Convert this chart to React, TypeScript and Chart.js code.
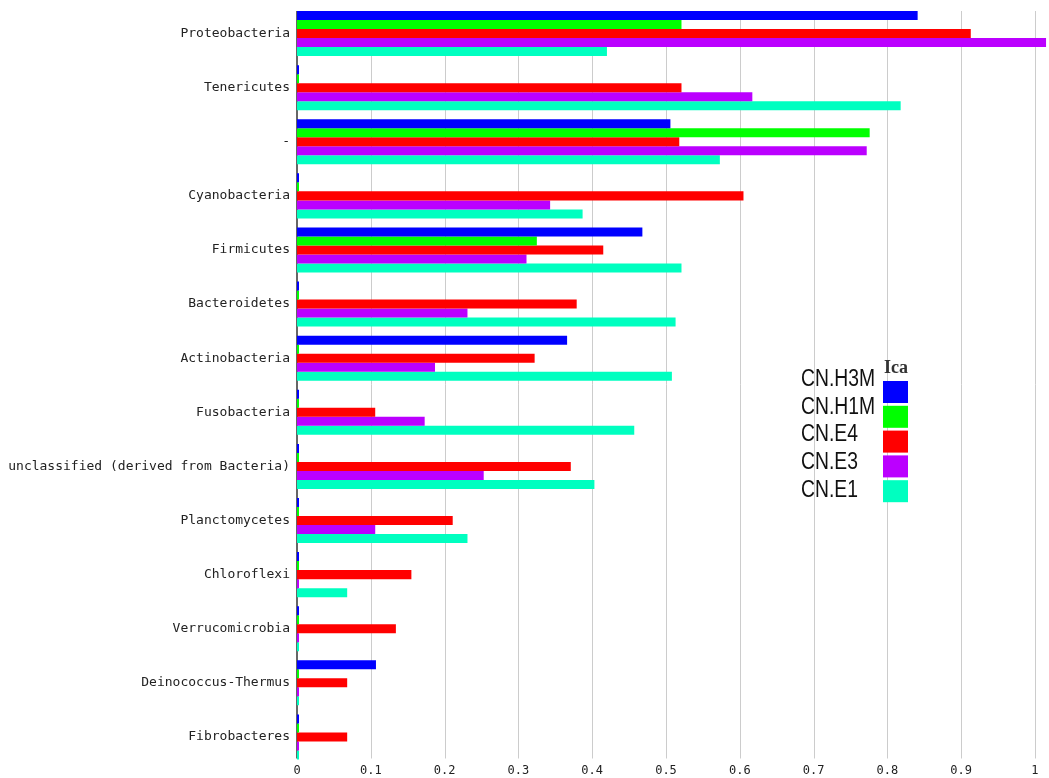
import React, { useEffect, useRef } from "react";
import { Chart, registerables } from "chart.js";

Chart.register(...registerables);

// Phylum names, top to bottom
const categories = [
  "Proteobacteria",
  "Tenericutes",
  "-",
  "Cyanobacteria",
  "Firmicutes",
  "Bacteroidetes",
  "Actinobacteria",
  "Fusobacteria",
  "unclassified (derived from Bacteria)",
  "Planctomycetes",
  "Chloroflexi",
  "Verrucomicrobia",
  "Deinococcus-Thermus",
  "Fibrobacteres",
];

// Relative abundance per sample
const cnH3M = [0.841, 0, 0.506, 0, 0.468, 0, 0.366, 0, 0, 0, 0, 0, 0.107, 0];
const cnH1M = [0.521, 0, 0.776, 0, 0.325, 0, 0, 0, 0, 0, 0, 0, 0, 0];
const cnE4 = [0.913, 0.521, 0.518, 0.605, 0.415, 0.379, 0.322, 0.106, 0.371, 0.211, 0.155, 0.134, 0.068, 0.068];
const cnE3 = [1.015, 0.617, 0.772, 0.343, 0.311, 0.231, 0.187, 0.173, 0.253, 0.106, 0, 0, 0, 0];
const cnE1 = [0.42, 0.818, 0.573, 0.387, 0.521, 0.513, 0.508, 0.457, 0.403, 0.231, 0.068, 0, 0, 0];

const seriesNames = ["CN.H3M", "CN.H1M", "CN.E4", "CN.E3", "CN.E1"];
const seriesValues = [cnH3M, cnH1M, cnE4, cnE3, cnE1];
const seriesColors = ["#0000ff", "#00ff00", "#ff0000", "#bb00ff", "#00ffc0"];

const legendTitle = "Ica";
const xTickMax = 1;

// Vertical grid and the zero axis, spanning only the bar groups
const gridPlugin = {
  id: "groupGrid",
  beforeDatasetsDraw(chart: any) {
    const ctx = chart.ctx as CanvasRenderingContext2D;
    const xs = chart.scales.x;
    const area = chart.chartArea;
    const top = area.top + 4.5;
    const bottom = area.bottom - 5.5;
    ctx.save();
    ctx.lineWidth = 1;
    ctx.strokeStyle = "#cccccc";
    xs.ticks.forEach((t: any) => {
      if (t.value === 0) return;
      const px = Math.round(xs.getPixelForValue(t.value)) + 0.5;
      ctx.beginPath();
      ctx.moveTo(px, top);
      ctx.lineTo(px, bottom);
      ctx.stroke();
    });
    ctx.lineWidth = 1.5;
    ctx.strokeStyle = "#333";
    const zx = xs.getPixelForValue(0);
    ctx.beginPath();
    ctx.moveTo(zx, top);
    ctx.lineTo(zx, bottom);
    ctx.stroke();
    ctx.restore();
  },
};

// Legend box at the right of the plot
const legendPlugin = {
  id: "sideLegend",
  afterDraw(chart: any) {
    const ctx = chart.ctx as CanvasRenderingContext2D;
    ctx.save();
    ctx.font = "bold 18px 'Liberation Serif', serif";
    ctx.fillStyle = "#333";
    ctx.textAlign = "left";
    ctx.textBaseline = "alphabetic";
    ctx.fillText(legendTitle, 884, 373);

    seriesNames.forEach((name, i) => {
      const sy = 381 + i * 24.8;
      ctx.fillStyle = seriesColors[i];
      ctx.fillRect(883, sy, 25, 22);

      const ty = 379.5 + i * 27.8;
      ctx.save();
      ctx.translate(801, ty);
      ctx.scale(0.84, 1);
      ctx.font = "23px 'Liberation Sans', Arial, sans-serif";
      ctx.fillStyle = "#111";
      ctx.textAlign = "left";
      ctx.textBaseline = "middle";
      ctx.fillText(name, 0, 0);
      ctx.restore();
    });
    ctx.restore();
  },
};

export default function App() {
  const canvasRef = useRef<HTMLCanvasElement | null>(null);

  useEffect(() => {
    if (!canvasRef.current) return;
    const chart = new Chart(canvasRef.current, {
      type: "bar",
      data: {
        labels: categories,
        datasets: seriesNames.map((name, i) => ({
          label: name,
          data: seriesValues[i],
          backgroundColor: seriesColors[i],
          borderWidth: 0,
          minBarLength: 2,
          categoryPercentage: 0.832,
          barPercentage: 1,
        })),
      },
      options: {
        indexAxis: "y",
        animation: false,
        responsive: true,
        maintainAspectRatio: false,
        layout: { padding: { top: 6.5, right: 0, bottom: 0, left: 0 } },
        plugins: {
          legend: { display: false },
          tooltip: { enabled: false },
        },
        scales: {
          x: {
            type: "linear",
            min: 0,
            max: 1.019,
            afterBuildTicks(scale: any) {
              scale.ticks = scale.ticks.filter((t: any) => t.value <= xTickMax + 1e-6);
            },
            afterFit(scale: any) {
              scale.height = 14;
              scale.paddingLeft = 0;
              scale.paddingRight = 0;
            },
            ticks: {
              stepSize: 0.1,
              includeBounds: false,
              padding: 0,
              color: "#222",
              font: { family: "'DejaVu Sans Mono', monospace", size: 12 },
              callback: (v: any) => String(Math.round(Number(v) * 10) / 10),
            },
            grid: { display: false, drawTicks: false },
            border: { display: false },
          },
          y: {
            type: "category",
            offset: true,
            afterFit(scale: any) {
              scale.width = 297;
              scale.paddingTop = 0;
              scale.paddingBottom = 0;
            },
            ticks: {
              padding: 7,
              color: "#222",
              font: { family: "'DejaVu Sans Mono', monospace", size: 13 },
            },
            grid: { display: false, drawTicks: false },
            border: { display: false },
          },
        },
      },
      plugins: [gridPlugin, legendPlugin],
    });
    return () => chart.destroy();
  }, []);

  return (
    <div style={{ position: "fixed", left: 0, top: 0, width: 1049, height: 778, background: "#fff" }}>
      <canvas ref={canvasRef} />
    </div>
  );
}
